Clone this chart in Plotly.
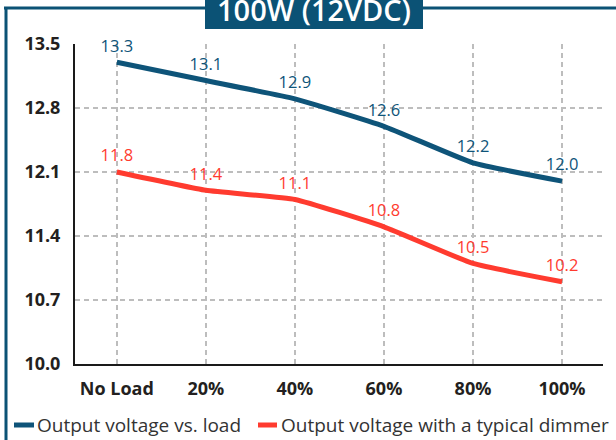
import plotly.graph_objects as go

categories = ["No Load", "20%", "40%", "60%", "80%", "100%"]
load_values = [13.3, 13.1, 12.9, 12.6, 12.2, 12.0]
load_labels = ["13.3", "13.1", "12.9", "12.6", "12.2", "12.0"]
dimmer_values = [12.1, 11.9, 11.8, 11.5, 11.1, 10.9]
dimmer_labels = ["11.8", "11.4", "11.1", "10.8", "10.5", "10.2"]
y_ticks = [10.0, 10.7, 11.4, 12.1, 12.8, 13.5]
series_names = ["Output voltage vs. load", "Output voltage with a typical dimmer"]
title_text = "100W (12VDC)"

BLUE = "#0e5479"
RED = "#ff3b2f"
TEAL = "#0b5275"
FONT = "Open Sans"

W, H = 616, 440
L, R, T, B = 75, 13, 44, 76
PW, PH = W - L - R, H - T - B


def xp(px):
    return (px - L) / PW


def yp(py):
    return (H - B - py) / PH


fig = go.Figure()
for vals, labels, name, col in [(load_values, load_labels, series_names[0], BLUE),
                                (dimmer_values, dimmer_labels, series_names[1], RED)]:
    fig.add_trace(go.Scatter(
        x=categories, y=vals, text=labels, mode="lines+markers+text",
        textposition="top center", name=name,
        marker=dict(size=9, opacity=0, color=col),
        line=dict(color=col, width=5, shape="spline", smoothing=0.4),
        textfont=dict(color=col, size=16.5, family=FONT), cliponaxis=False))

grid = dict(gridcolor="#bdbdbd", gridwidth=2, griddash="5px,4px")
tickfont = dict(size=18, color="#231f20", family=FONT, weight="bold")

fig.update_xaxes(type="category", range=[-0.47, 5.46], showgrid=True, **grid,
                 showline=True, linecolor="#1a1a1a", linewidth=2,
                 tickfont=tickfont, ticklabelstandoff=7, zeroline=False)
fig.update_yaxes(range=[10.0, 13.5], tickvals=y_ticks,
                 ticktext=[f"{v:.1f}" for v in y_ticks], showgrid=False,
                 minor=dict(tickvals=y_ticks[1:-1], showgrid=True, **grid),
                 showline=True, linecolor="#1a1a1a", linewidth=2,
                 tickfont=tickfont, ticklabelstandoff=9, zeroline=False)

shapes = [
    dict(type="line", xref="paper", yref="paper", x0=xp(4), x1=xp(620), y0=yp(8), y1=yp(8),
         line=dict(color=TEAL, width=3)),
    dict(type="line", xref="paper", yref="paper", x0=xp(6), x1=xp(6), y0=yp(8), y1=yp(445),
         line=dict(color=TEAL, width=3)),
    dict(type="rect", xref="paper", yref="paper", x0=xp(205), x1=xp(423), y0=yp(29), y1=yp(-5),
         fillcolor=TEAL, line=dict(width=0)),
    dict(type="line", xref="paper", yref="paper", x0=xp(14), x1=xp(34), y0=yp(425), y1=yp(425),
         line=dict(color=BLUE, width=5)),
    dict(type="line", xref="paper", yref="paper", x0=xp(258), x1=xp(277), y0=yp(425), y1=yp(425),
         line=dict(color=RED, width=5)),
]

annotations = [
    dict(text=title_text, xref="paper", yref="paper", x=xp(314), y=yp(9), xanchor="center",
         yanchor="middle", showarrow=False,
         font=dict(color="white", size=29, family=FONT, weight=600)),
    dict(text=series_names[0], xref="paper", yref="paper", x=xp(35), y=yp(425), xanchor="left",
         yanchor="middle", showarrow=False, font=dict(color="#333333", size=19, family=FONT)),
    dict(text=series_names[1], xref="paper", yref="paper", x=xp(279), y=yp(425), xanchor="left",
         yanchor="middle", showarrow=False, font=dict(color="#333333", size=19, family=FONT)),
]

fig.update_layout(width=W, height=H, margin=dict(l=L, r=R, t=T, b=B),
                  paper_bgcolor="white", plot_bgcolor="white", showlegend=False,
                  shapes=shapes, annotations=annotations,
                  font=dict(family=FONT))

fig.write_html("out.html", config={"displayModeBar": False},
               post_script="document.body.style.margin='0';document.body.style.overflow='hidden';")
